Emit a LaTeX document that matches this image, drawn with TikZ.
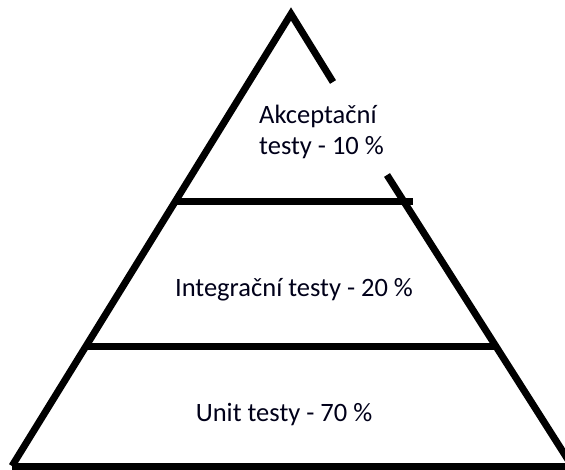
\documentclass[tikz,border=0pt]{standalone}
\usepackage{fontspec}
\setmainfont{Carlito}
\usetikzlibrary{positioning}

\begin{document}
\begin{tikzpicture}[x=1pt,y=-1pt,
		edge/.style={line width=7pt},
		label/.style={font=\fontsize{26.5}{31}\selectfont,text=black!90!blue,inner sep=0pt}]
		\useasboundingbox (0,0) rectangle (565,470);
		\coordinate (apex) at (291,14);
		\coordinate (topR) at (333,82);
		\coordinate (midR) at (387,175);
		\coordinate (botL) at (12,466);
		\coordinate (botR) at (572,466);
		% pyramid outline
		\draw[edge,line join=miter] (botL) -- (apex) -- (topR);
		\draw[edge] (midR) -- (botR);
		\draw[edge] (botL) -- (565,466);
		\coordinate (l1a) at (175,202);
		\coordinate (l1b) at (413,202);
		\coordinate (l2a) at (85,347);
		\coordinate (l2b) at (497,347);
		\draw[edge] (l1a) -- (l1b);
		\draw[edge] (l2a) -- (l2b);
		% labels
		\node[label,align=left,anchor=west] (akc) at (259,132) {Akceptační\\testy - 10 \%};
		\node[label] (int) at (294,290) {Integrační testy - 20 \%};
		\node[label] (unit) at (284,415) {Unit testy - 70 \%};
	\end{tikzpicture}
\end{document}
